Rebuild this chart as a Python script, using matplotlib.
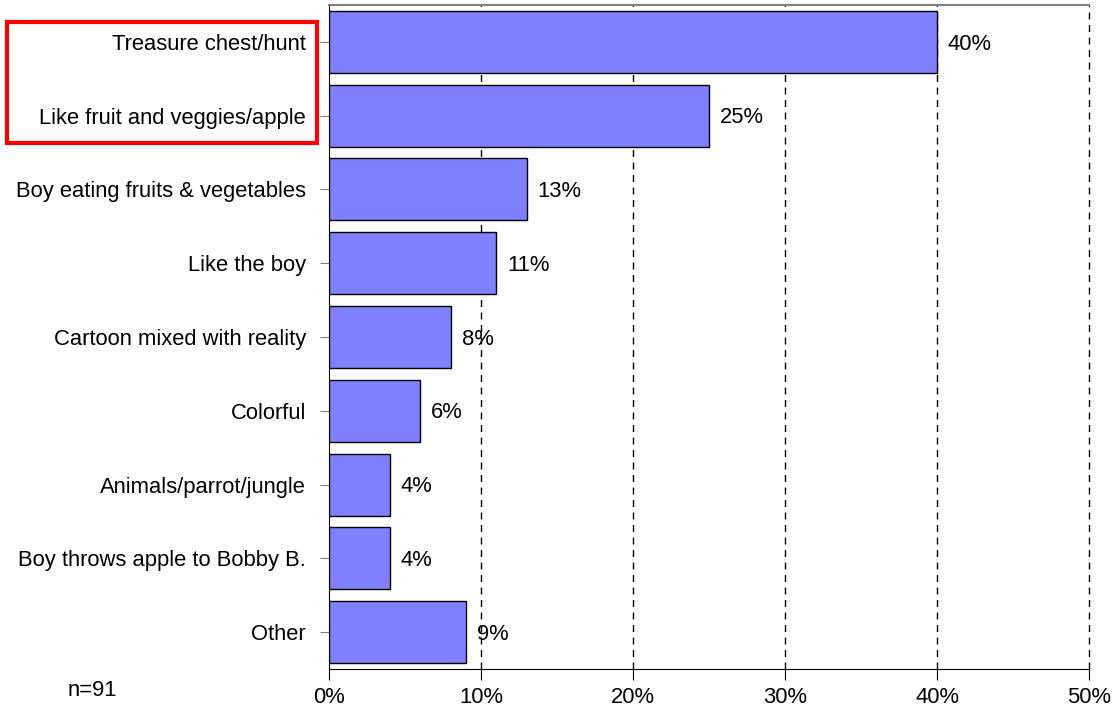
import matplotlib.pyplot as plt
from matplotlib.patches import Rectangle

plt.rcParams['font.family'] = ['Liberation Sans', 'DejaVu Sans']

categories = [
    'Treasure chest/hunt',
    'Like fruit and veggies/apple',
    'Boy eating fruits & vegetables',
    'Like the boy',
    'Cartoon mixed with reality',
    'Colorful',
    'Animals/parrot/jungle',
    'Boy throws apple to Bobby B.',
    'Other',
]
values = [40, 25, 13, 11, 8, 6, 4, 4, 9]
x_ticks = [0, 10, 20, 30, 40, 50]
sample_note = 'n=91'

FS = 15.8

fig = plt.figure(figsize=(11.16, 7.13), dpi=100)
ax = fig.add_axes([329 / 1116, 1 - 669 / 713, 760 / 1116, 664 / 713])

pos = list(range(len(categories)))
ax.barh(pos, values, height=0.84, color='#8080FF', edgecolor='black', linewidth=1, zorder=3)

for p, v in zip(pos, values):
    ax.text(v + 0.72, p + 0.03, f'{v}%', va='center', ha='left', fontsize=FS, zorder=4)

ax.set_xlim(0, 50)
ax.set_ylim(len(categories) - 0.5, -0.5)
ax.set_yticks(pos)
ax.set_yticklabels(categories, fontsize=FS)
ax.set_xticks(x_ticks)
ax.set_xticklabels([f'{t}%' for t in x_ticks], fontsize=FS)

# dashed vertical grid, last one doubles as right border
for t in x_ticks[1:]:
    ax.axvline(t, color='black', linestyle=(0, (5, 4)), linewidth=1, zorder=1, clip_on=False)

ax.spines['right'].set_visible(False)
ax.spines['top'].set_color('#808080')
ax.spines['top'].set_linewidth(1.5)
ax.spines['left'].set_color('black')
ax.spines['bottom'].set_color('black')

ax.tick_params(axis='y', length=6.5, color='#808080', pad=10)
ax.tick_params(axis='x', length=8, color='black', pad=5)

fig.text(68 / 1116, 1 - 690 / 713, sample_note, fontsize=FS, va='center', ha='left')

# red highlight box around the top two labels
fig.patches.append(Rectangle((7 / 1116, 1 - 143 / 713), 310 / 1116, 121 / 713,
                             transform=fig.transFigure, fill=False,
                             edgecolor='red', linewidth=3))

fig.savefig('out.png', dpi=100)
